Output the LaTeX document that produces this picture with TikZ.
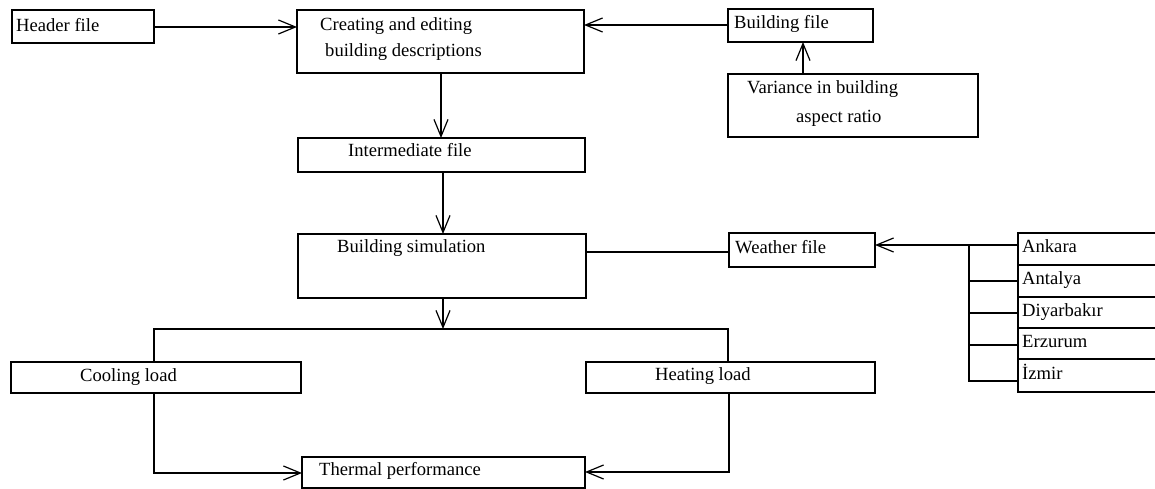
\documentclass[tikz,border=0pt]{standalone}
\usepackage{fontspec}
\setmainfont{Liberation Serif}
\usetikzlibrary{arrows.meta}
\begin{document}
\begin{tikzpicture}[x=1pt,y=-1pt,
  box/.style={draw,line width=1.8pt,anchor=north west,inner sep=0pt,outer sep=0pt},
  txt/.style={anchor=base west,inner sep=0pt,font=\fontsize{18.6}{22}\selectfont},
  conn/.style={line width=1.2pt},
  arr/.style={conn,-{Straight Barb[length=17pt,width=14pt]}}]
\useasboundingbox (0,0) rectangle (1155,489);
% boxes
\node[box,minimum width=142pt,minimum height=33pt] (header) at (12,10) {};
\node[box,minimum width=287pt,minimum height=63pt] (create) at (297,10) {};
\node[box,minimum width=145pt,minimum height=33pt] (bfile) at (728,9) {};
\node[box,minimum width=250pt,minimum height=63pt] (var) at (728,74) {};
\node[box,minimum width=287pt,minimum height=34pt] (inter) at (298,138) {};
\node[box,minimum width=288pt,minimum height=64pt] (sim) at (298,234) {};
\node[box,minimum width=146pt,minimum height=34pt] (weather) at (729,233) {};
\node[box,minimum width=140pt,minimum height=32pt] (ankara) at (1018,233) {};
\node[box,minimum width=140pt,minimum height=32pt] (antalya) at (1018,265) {};
\node[box,minimum width=140pt,minimum height=31pt] (diyar) at (1018,297) {};
\node[box,minimum width=140pt,minimum height=31pt] (erz) at (1018,328) {};
\node[box,minimum width=140pt,minimum height=33pt] (izmir) at (1018,359) {};
\node[box,minimum width=290pt,minimum height=31pt] (cool) at (11,362) {};
\node[box,minimum width=289pt,minimum height=31pt] (heat) at (586,362) {};
\node[box,minimum width=283pt,minimum height=31pt] (thermal) at (302,457) {};
% texts
\node[txt] (theader) at (16,32) {Header file};
\node[txt] (tcreate1) at (320,31) {Creating and editing};
\node[txt] (tcreate2) at (325,57) {building descriptions};
\node[txt] (tbfile) at (734,29) {Building file};
\node[txt] (tvar1) at (747,94) {Variance in building};
\node[txt] (tvar2) at (796,123) {aspect ratio};
\node[txt] (tinter) at (348,157) {Intermediate file};
\node[txt] (tsim) at (337,252) {Building simulation};
\node[txt] (tweather) at (735,253) {Weather file};
\node[txt] (tankara) at (1022,252) {Ankara};
\node[txt] (tantalya) at (1022,284) {Antalya};
\node[txt] (tdiyar) at (1022,316) {Diyarbakır};
\node[txt] (terz) at (1022,347) {Erzurum};
\node[txt] (tizmir) at (1022,379) {İzmir};
\node[txt] (tcool) at (80,381) {Cooling load};
\node[txt] (theat) at (655,380) {Heating load};
\node[txt] (tthermal) at (319,475) {Thermal performance};
% junction coordinates
\coordinate (split) at (443,329);
\coordinate (branch) at (969,245);
% connectors
\draw[arr] (header.east |- 0,27) -- (create.west |- 0,27);
\draw[arr] (bfile.west |- 0,25) -- (create.east |- 0,25);
\draw[arr] (var.north -| 803,0) -- (bfile.south -| 803,0);
\draw[arr] (create.south -| 441,0) -- (inter.north -| 441,0);
\draw[arr] (inter.south -| 443,0) -- (sim.north -| 443,0);
\draw[arr] (sim.south -| 443,0) -- (split);
\draw[conn] (cool.north -| 154,0) -- (154,329) -- (728,329) -- (heat.north -| 728,0);
\draw[conn] (sim.east |- 0,252) -- (weather.west |- 0,252);
\draw[arr] (ankara.west |- 0,245) -- (weather.east |- 0,245);
\draw[conn] (branch) -- (969,381) -- (izmir.west |- 0,381);
\draw[conn] (969,281) -- (antalya.west |- 0,281);
\draw[conn] (969,313) -- (diyar.west |- 0,313);
\draw[conn] (969,345) -- (erz.west |- 0,345);
\draw[arr] (cool.south -| 154,0) -- (154,473) -- (thermal.west |- 0,473);
\draw[arr] (heat.south -| 729,0) -- (729,472) -- (thermal.east |- 0,472);
\end{tikzpicture}
\end{document}
